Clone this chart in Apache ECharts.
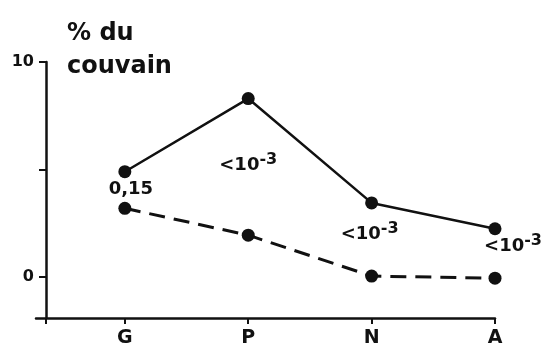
<!DOCTYPE html>
<html>
<head>
    <meta charset="utf-8">
    <script src="https://cdn.jsdelivr.net/npm/echarts@6/dist/echarts.min.js"></script>
</head>
<body style="margin: 0; background: #fff">
<div id="container" style="height: 351px; width: 552px;"></div>
<script>

// stages along the x axis (placed at 1..4)
var stages = ['G', 'P', 'N', 'A'];
var stagePos = [1, 2, 3, 4];
// % du couvain, solid line and dashed line
var solidValues = [4.9, 8.3, 3.45, 2.25];
var dashedValues = [3.2, 1.95, 0.05, -0.05];
// significance written between the two curves
var pLabels = ['0,15', '<10-3', '<10-3', '<10-3'];
var yTickValues = [0, 5, 10];
var yLabelValues = [0, 10];

var FONT = 'DejaVu Sans';
var dom = document.getElementById('container');
var myChart = echarts.init(dom);

// where each p label sits relative to the dashed point
var labelOffsets = [[6, 0], [0, -46], [-2, -18], [18, -8]];

function pText(s) {
    if (s.indexOf('<10') === 0) {
        return '{a|<10}{b|' + s.slice(3) + '}';
    }
    return '{a|' + s + '}';
}

var solidData = [];
var dashedData = [];
for (var i = 0; i < stages.length; i++) {
    solidData.push([stagePos[i], solidValues[i]]);
    dashedData.push({
        value: [stagePos[i], dashedValues[i]],
        label: {
            show: true,
            position: 'top',
            distance: 3,
            offset: labelOffsets[i],
            formatter: pText(pLabels[i])
        }
    });
}

var option = {
    backgroundColor: '#fff',
    animation: false,
    title: {
        text: '% du\ncouvain',
        left: 62,
        top: 12,
        textStyle: {
            fontFamily: FONT,
            fontSize: 24,
            fontWeight: 'bold',
            lineHeight: 33,
            color: '#111'
        }
    },
    grid: {
        left: 36,
        right: 57,
        top: 62,
        bottom: 33
    },
    xAxis: {
        type: 'value',
        min: 0.28,
        max: 4,
        splitLine: { show: false },
        axisLine: { onZero: false, lineStyle: { color: '#111', width: 2.5 } },
        axisTick: {
            customValues: [0.36].concat(stagePos),
            length: 6,
            lineStyle: { color: '#111', width: 2 }
        },
        axisLabel: {
            customValues: stagePos,
            margin: 11,
            fontFamily: FONT,
            fontSize: 19,
            fontWeight: 'bold',
            color: '#111',
            formatter: function (v) {
                return stages[Math.round(v) - 1];
            }
        }
    },
    yAxis: {
        type: 'value',
        min: -1.9,
        max: 10,
        offset: -10,
        splitLine: { show: false },
        axisLine: { onZero: false, lineStyle: { color: '#111', width: 2.5 } },
        axisTick: {
            customValues: yTickValues,
            length: 7,
            lineStyle: { color: '#111', width: 2 }
        },
        axisLabel: {
            customValues: yLabelValues,
            margin: 12,
            fontFamily: FONT,
            fontSize: 16,
            fontWeight: 'bold',
            color: '#111'
        }
    },
    series: [
        {
            name: 'solid',
            type: 'line',
            data: solidData,
            symbol: 'circle',
            symbolSize: 13,
            itemStyle: { color: '#111' },
            lineStyle: { color: '#111', width: 2.5 }
        },
        {
            name: 'dashed',
            type: 'line',
            data: dashedData,
            symbol: 'circle',
            symbolSize: 13,
            itemStyle: { color: '#111' },
            lineStyle: { color: '#111', width: 3, type: [16, 9] },
            label: {
                color: '#111',
                rich: {
                    a: { fontFamily: FONT, fontSize: 18, fontWeight: 'bold', color: '#111' },
                    b: { fontFamily: FONT, fontSize: 16, fontWeight: 'bold', color: '#111',
                         verticalAlign: 'bottom', padding: [0, 0, 12, 0] }
                }
            }
        }
    ]
};

myChart.setOption(option);

</script>
</body>
</html>
